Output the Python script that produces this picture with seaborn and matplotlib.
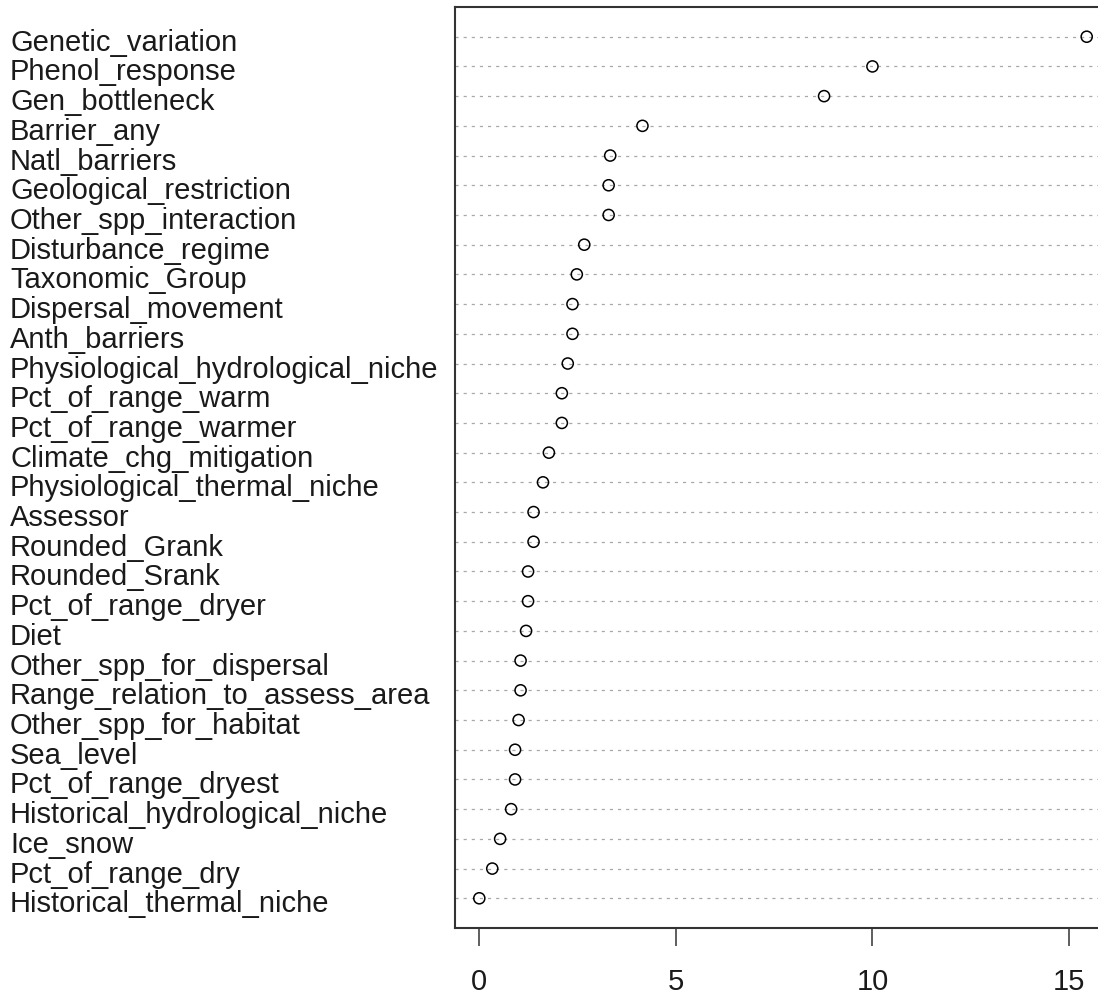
import matplotlib
matplotlib.use("Agg")
import matplotlib.pyplot as plt
import matplotlib.transforms as mtransforms
import seaborn as sns
import pandas as pd

variables = [
    "Genetic_variation", "Phenol_response", "Gen_bottleneck", "Barrier_any",
    "Natl_barriers", "Geological_restriction", "Other_spp_interaction",
    "Disturbance_regime", "Taxonomic_Group", "Dispersal_movement",
    "Anth_barriers", "Physiological_hydrological_niche", "Pct_of_range_warm",
    "Pct_of_range_warmer", "Climate_chg_mitigation", "Physiological_thermal_niche",
    "Assessor", "Rounded_Grank", "Rounded_Srank", "Pct_of_range_dryer", "Diet",
    "Other_spp_for_dispersal", "Range_relation_to_assess_area",
    "Other_spp_for_habitat", "Sea_level", "Pct_of_range_dryest",
    "Historical_hydrological_niche", "Ice_snow", "Pct_of_range_dry",
    "Historical_thermal_niche",
]
importance = [
    15.45, 10.0, 8.77, 4.15,
    3.33, 3.29, 3.29,
    2.67, 2.48, 2.37,
    2.37, 2.25, 2.10,
    2.10, 1.77, 1.62,
    1.38, 1.38, 1.24, 1.24, 1.19,
    1.05, 1.05,
    1.00, 0.91, 0.91,
    0.81, 0.53, 0.33,
    0.0,
]
x_ticks = [0, 5, 10, 15]

df = pd.DataFrame({"variable": variables, "importance": importance})

sns.set_style("white")
plt.rcParams["font.family"] = ["Liberation Sans", "DejaVu Sans"]

W, H = 1098, 999
fig = plt.figure(figsize=(W / 100, H / 100), dpi=100)
left, right, top, bottom = 455, 1111, 7, 928
ax = fig.add_axes([left / W, 1 - bottom / H, (right - left) / W, (bottom - top) / H])

sns.stripplot(data=df, x="importance", y="variable", order=variables,
              jitter=False, orient="h", ax=ax, color="black", size=8,
              linewidth=1.1, edgecolor="black", zorder=3)
for c in ax.collections:
    c.set_facecolor("none")
    c.set_edgecolor("black")
    c.set_linewidth(1.1)

n = len(variables)
ax.set_ylim(n, -1)
rng = max(importance) - min(importance)
ax.set_xlim(min(importance) - 0.04 * rng, max(importance) + 0.04 * rng)

for i in range(n):
    ax.axhline(i, color="#a8a8a8", lw=0.9, ls=(0, (2.5, 4)), zorder=1)

ax.set_xticks(x_ticks)
ax.set_xticklabels([str(t) for t in x_ticks])
ax.set_xlabel("")
ax.set_ylabel("")

ax.tick_params(axis="x", length=13, width=1.1, color="#333333", pad=16,
               labelsize=21, labelcolor="#1a1a1a", direction="out", bottom=True)
ax.tick_params(axis="y", length=0, pad=(left - 10) * 0.72, labelsize=21,
               labelcolor="#1a1a1a")
offset = mtransforms.ScaledTranslation(0, -3 / 100, fig.dpi_scale_trans)
for lab in ax.get_yticklabels():
    lab.set_horizontalalignment("left")
    lab.set_transform(lab.get_transform() + offset)

for s in ax.spines.values():
    s.set_color("#333333")
    s.set_linewidth(1.5)

fig.savefig("out.png", dpi=100)
